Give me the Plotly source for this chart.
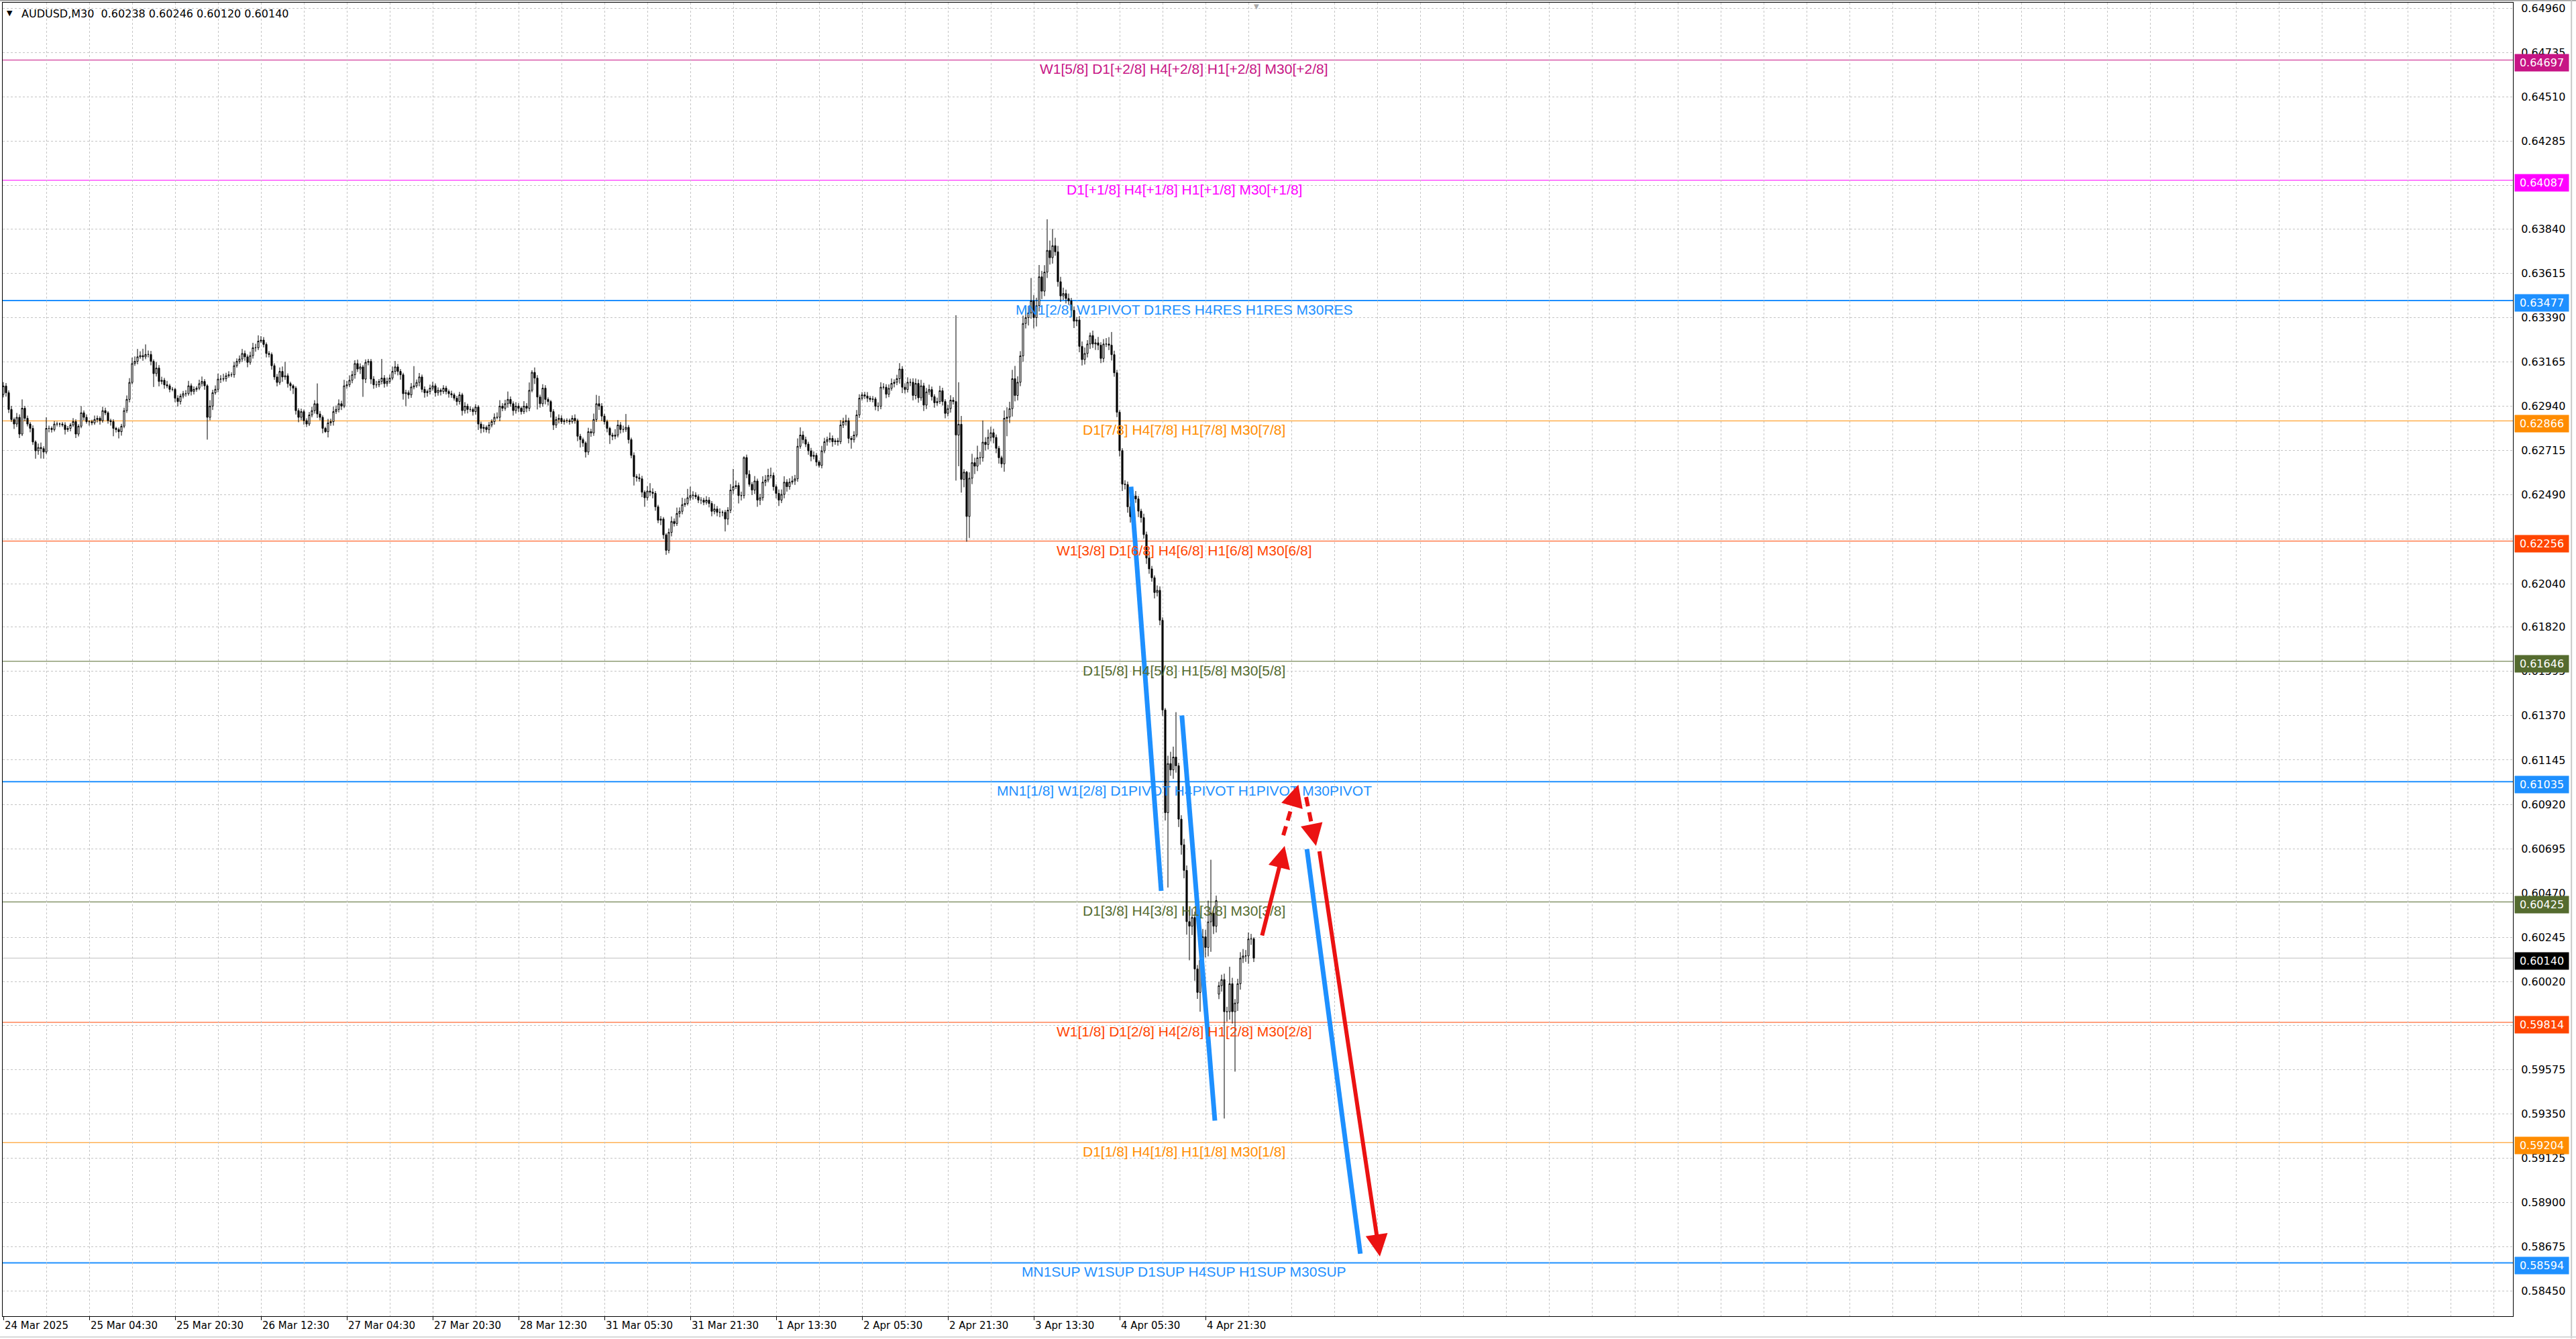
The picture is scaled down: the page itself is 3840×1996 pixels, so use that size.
import plotly.graph_objects as go

# ---- data (prices in 1e-5 units for the candles) ----
SYMBOL = "AUDUSD,M30"

CLOSE = [
    63043, 63009, 62924, 62873, 62850, 62884, 62799, 62930, 62879, 62850,
    62828, 62759, 62714, 62731, 62725, 62708, 62828, 62828, 62822, 62850,
    62850, 62850, 62845, 62822, 62828, 62845, 62862, 62799, 62839, 62907,
    62884, 62862, 62862, 62856, 62873, 62879, 62867, 62918, 62907, 62867,
    62862, 62828, 62822, 62811, 62839, 62918, 62975, 63061, 63157, 63168,
    63191, 63197, 63191, 63203, 63203, 63168, 63106, 63134, 63066, 63072,
    63049, 63044, 63026, 63026, 62981, 62964, 62992, 63004, 63004, 63044,
    63015, 63026, 63032, 63055, 63066, 63044, 62884, 62941, 63009, 63026,
    63078, 63078, 63080, 63095, 63100, 63100, 63146, 63168, 63180, 63208,
    63191, 63163, 63197, 63237, 63237, 63271, 63276, 63254, 63208, 63203,
    63146, 63089, 63061, 63117, 63089, 63095, 63055, 63044, 63032, 62918,
    62884, 62913, 62867, 62850, 62896, 62918, 62953, 62901, 62884, 62828,
    62811, 62856, 62862, 62913, 62924, 62953, 62941, 63044, 63049, 63072,
    63100, 63157, 63129, 63140, 63078, 63163, 63168, 63078, 63049, 63049,
    63066, 63083, 63055, 63066, 63083, 63117, 63140, 63117, 63100, 63004,
    63009, 62998, 63038, 63044, 63061, 63089, 63026, 63009, 63015, 63032,
    63044, 63009, 63021, 63015, 63032, 63015, 63004, 62998, 62981, 62964,
    62998, 62918, 62941, 62924, 62924, 62913, 62936, 62850, 62828, 62833,
    62822, 62845, 62862, 62884, 62884, 62941, 62930, 62953, 62975, 62953,
    62918, 62941, 62930, 62913, 62941, 62930, 63021, 63112, 63083, 62987,
    62953, 63032, 62975, 62964, 62913, 62845, 62873, 62879, 62862, 62867,
    62867, 62862, 62879, 62867, 62788, 62771, 62754, 62708, 62811, 62805,
    62873, 62953, 62941, 62890, 62862, 62828, 62794, 62788, 62794, 62845,
    62822, 62822, 62833, 62771, 62691, 62583, 62578, 62572, 62504, 62476,
    62510, 62504, 62498, 62430, 62362, 62368, 62288, 62209, 62300, 62356,
    62345, 62396, 62407, 62441, 62447, 62476, 62487, 62489, 62481, 62464,
    62464, 62453, 62464, 62447, 62407, 62419, 62402, 62402, 62402, 62368,
    62413, 62515, 62532, 62538, 62487, 62487, 62680, 62595, 62544, 62515,
    62561, 62464, 62476, 62555, 62566, 62589, 62589, 62532, 62498, 62464,
    62493, 62555, 62532, 62555, 62561, 62572, 62737, 62794, 62771, 62748,
    62714, 62686, 62691, 62657, 62640, 62714, 62760, 62771, 62777, 62760,
    62765, 62760, 62845, 62862, 62867, 62777, 62771, 62794, 62896, 62981,
    62998, 62992, 62981, 62975, 62977, 62940, 62940, 63037, 63037, 63001,
    63031, 63056, 63062, 63080, 63129, 63037, 63025, 63062, 63062, 62995,
    63056, 62983, 63044, 62946, 63013, 63025, 62989, 62958, 62964, 63019,
    62964, 62904, 62928, 62971, 62964, 62794, 62849, 62569, 62606, 62381,
    62575, 62654, 62636, 62679, 62679, 62758, 62746, 62782, 62806, 62782,
    62727, 62679, 62648, 62879, 62885, 62928, 63080, 62995, 63062, 63196,
    63360, 63390, 63414, 63475, 63390, 63451, 63597, 63524, 63621, 63731,
    63694, 63755, 63724, 63572, 63500, 63512, 63487, 63475, 63427, 63372,
    63378, 63244, 63177, 63208, 63256, 63299, 63256, 63262, 63250, 63183,
    63256, 63256, 63250, 63202, 63110, 62910, 62715, 62545, 62543, 62430,
    62380, 62485, 62470, 62408, 62375, 62289, 62170, 62115, 62070, 61995,
    62006, 61854, 61399, 60878, 61127, 61095, 61160, 61116, 60845, 60715,
    60585, 60325, 60302, 60346, 60085, 59966, 60129, 60248, 60194, 60324,
    60368, 60302, 60432, 60000, 60031, 59868, 59868, 60010, 59868, 59912,
    60010, 60140, 60151, 60151, 60237, 60238, 60140,
]

WICK_UP = [
    20, 15, 12, 18, 10, 22, 15, 45, 12, 14,
    10, 15, 8, 20, 25, 12, 56, 14, 10, 15,
    12, 8, 10, 14, 12, 10, 18, 12, 10, 34,
    12, 15, 8, 10, 20, 14, 10, 20, 15, 8,
    10, 12, 8, 10, 12, 15, 20, 22, 30, 25,
    40, 22, 35, 51, 20, 18, 10, 30, 15, 18,
    12, 20, 10, 12, 8, 15, 12, 14, 18, 25,
    12, 15, 10, 20, 25, 12, 8, 30, 15, 20,
    28, 20, 25, 15, 18, 12, 20, 15, 18, 23,
    15, 12, 20, 25, 20, 29, 20, 15, 10, 12,
    10, 12, 15, 20, 25, 70, 12, 10, 8, 10,
    12, 15, 10, 12, 15, 20, 18, 103, 15, 10,
    8, 20, 15, 25, 20, 22, 15, 30, 20, 25,
    20, 17, 20, 18, 10, 15, 12, 12, 15, 20,
    12, 97, 15, 20, 18, 25, 30, 15, 12, 10,
    15, 12, 20, 100, 15, 20, 12, 15, 10, 18,
    20, 12, 15, 10, 15, 12, 10, 15, 10, 12,
    15, 10, 20, 12, 15, 10, 15, 10, 12, 15,
    10, 15, 12, 20, 25, 30, 15, 20, 40, 15,
    12, 20, 15, 10, 25, 15, 40, 11, 25, 15,
    12, 20, 15, 10, 8, 12, 15, 20, 15, 10,
    12, 10, 15, 20, 10, 12, 10, 8, 20, 15,
    30, 45, 40, 15, 12, 10, 8, 12, 30, 25,
    15, 20, 68, 12, 10, 15, 12, 20, 15, 10,
    25, 40, 20, 12, 10, 15, 10, 8, 20, 25,
    15, 30, 20, 35, 25, 45, 45, 20, 15, 12,
    15, 12, 20, 15, 12, 25, 15, 20, 10, 12,
    15, 30, 90, 25, 15, 20, 6, 15, 20, 12,
    25, 12, 20, 30, 25, 34, 40, 15, 12, 20,
    25, 30, 15, 20, 25, 20, 40, 39, 20, 15,
    12, 15, 20, 12, 10, 25, 20, 15, 30, 15,
    12, 15, 25, 20, 30, 15, 12, 20, 25, 20,
    14, 15, 20, 12, 15, 10, 20, 25, 20, 15,
    20, 25, 15, 20, 30, 15, 20, 25, 18, 20,
    25, 20, 30, 15, 20, 25, 15, 12, 20, 25,
    15, 12, 20, 25, 15, 438, 213, 42, 15, 6,
    30, 45, 25, 61, 30, 110, 25, 40, 30, 20,
    15, 12, 10, 40, 50, 35, 45, 65, 30, 24,
    40, 50, 35, 116, 30, 40, 60, 30, 35, 158,
    50, 85, 40, 30, 25, 30, 20, 25, 15, 20,
    15, 20, 25, 30, 20, 15, 25, 20, 30, 15,
    25, 30, 35, 67, 20, 15, 10, 12, 20, 15,
    20, 30, 25, 15, 12, 20, 15, 20, 15, 12,
    25, 20, 15, 10, 40, 60, 53, 228, 15, 20,
    30, 25, 50, 45, 30, 20, 30, 40, 35, 108,
    271, 30, 25, 20, 25, 30, 25, 86, 30, 20,
    25, 30, 35, 30, 33, 25, 8,
]

WICK_DN = [
    15, 20, 18, 12, 25, 15, 20, 10, 15, 12,
    20, 15, 40, 20, 50, 34, 10, 20, 15, 10,
    12, 15, 10, 25, 12, 15, 10, 20, 12, 10,
    15, 10, 20, 12, 10, 15, 20, 10, 12, 15,
    20, 40, 15, 34, 20, 10, 12, 15, 10, 12,
    15, 10, 20, 12, 15, 20, 68, 15, 25, 15,
    20, 12, 15, 10, 20, 25, 15, 12, 15, 10,
    20, 15, 12, 10, 15, 20, 113, 15, 20, 10,
    15, 20, 12, 15, 10, 12, 15, 10, 12, 15,
    20, 25, 12, 15, 20, 12, 10, 15, 20, 15,
    20, 15, 20, 12, 25, 15, 20, 25, 30, 20,
    25, 15, 20, 15, 10, 12, 15, 20, 15, 25,
    6, 29, 15, 20, 12, 15, 20, 10, 15, 12,
    15, 20, 15, 25, 90, 20, 15, 25, 20, 15,
    12, 15, 20, 15, 12, 10, 15, 20, 25, 30,
    63, 20, 15, 12, 10, 20, 15, 25, 20, 15,
    12, 20, 15, 20, 12, 15, 20, 15, 12, 20,
    15, 25, 15, 20, 12, 20, 15, 30, 25, 20,
    15, 20, 12, 15, 10, 20, 15, 12, 20, 15,
    25, 15, 20, 15, 12, 20, 15, 10, 30, 63,
    20, 15, 25, 20, 30, 25, 15, 20, 12, 15,
    12, 15, 10, 15, 25, 40, 20, 28, 15, 20,
    15, 12, 20, 25, 15, 20, 45, 20, 15, 12,
    20, 15, 12, 20, 15, 45, 20, 15, 25, 46,
    15, 20, 25, 20, 15, 25, 20, 23, 15, 20,
    15, 12, 20, 15, 12, 10, 15, 20, 12, 15,
    20, 15, 12, 20, 25, 15, 20, 25, 20, 63,
    30, 15, 20, 12, 40, 25, 15, 20, 12, 25,
    20, 34, 25, 15, 20, 12, 15, 20, 25, 30,
    15, 20, 25, 15, 12, 20, 15, 12, 20, 15,
    20, 25, 15, 20, 11, 15, 12, 20, 15, 25,
    15, 20, 12, 15, 20, 25, 46, 15, 12, 15,
    12, 15, 20, 12, 15, 20, 25, 15, 12, 20,
    15, 12, 20, 15, 25, 30, 20, 15, 20, 25,
    20, 25, 15, 30, 20, 15, 20, 25, 15, 12,
    20, 25, 15, 20, 15, 231, 158, 67, 40, 128,
    109, 30, 40, 25, 35, 20, 30, 25, 20, 30,
    25, 30, 20, 40, 91, 30, 40, 30, 25, 20,
    30, 25, 40, 30, 55, 45, 30, 40, 25, 30,
    35, 30, 20, 25, 30, 20, 25, 20, 30, 35,
    25, 30, 30, 25, 20, 25, 20, 30, 25, 24,
    20, 15, 25, 30, 20, 25, 30, 35, 25, 30,
    30, 25, 20, 30, 25, 20, 30, 25, 20, 30,
    20, 25, 30, 40, 380, 30, 45, 35, 40, 50,
    40, 66, 173, 45, 60, 33, 98, 40, 50, 45,
    152, 40, 32, 25, 30, 542, 50, 40, 60, 304,
    40, 30, 25, 30, 40, 30, 20,
]

FIRST_OPEN = 63000
GAP_OPEN = {453: 59957}   # monday open after the weekend gap

TIME_LABELS = [
    "24 Mar 2025", "25 Mar 04:30", "25 Mar 20:30", "26 Mar 12:30",
    "27 Mar 04:30", "27 Mar 20:30", "28 Mar 12:30", "31 Mar 05:30",
    "31 Mar 21:30", "1 Apr 13:30", "2 Apr 05:30", "2 Apr 21:30",
    "3 Apr 13:30", "4 Apr 05:30", "4 Apr 21:30",
]
BARS_PER_LABEL = 32

Y_TICKS = [
    0.64960, 0.64735, 0.64510, 0.64285, 0.64060, 0.63840, 0.63615, 0.63390,
    0.63165, 0.62940, 0.62715, 0.62490, 0.62265, 0.62040, 0.61820, 0.61595,
    0.61370, 0.61145, 0.60920, 0.60695, 0.60470, 0.60245, 0.60020, 0.59800,
    0.59575, 0.59350, 0.59125, 0.58900, 0.58675, 0.58450,
]

LEVELS = [0.64697, 0.64087, 0.63477, 0.62866, 0.62256, 0.61646,
          0.61035, 0.60425, 0.59814, 0.59204, 0.58594]
LEVEL_TEXT = [
    "W1[5/8] D1[+2/8] H4[+2/8] H1[+2/8] M30[+2/8]",
    "D1[+1/8] H4[+1/8] H1[+1/8] M30[+1/8]",
    "MN1[2/8] W1PIVOT D1RES H4RES H1RES M30RES",
    "D1[7/8] H4[7/8] H1[7/8] M30[7/8]",
    "W1[3/8] D1[6/8] H4[6/8] H1[6/8] M30[6/8]",
    "D1[5/8] H4[5/8] H1[5/8] M30[5/8]",
    "MN1[1/8] W1[2/8] D1PIVOT H4PIVOT H1PIVOT M30PIVOT",
    "D1[3/8] H4[3/8] H1[3/8] M30[3/8]",
    "W1[1/8] D1[2/8] H4[2/8] H1[2/8] M30[2/8]",
    "D1[1/8] H4[1/8] H1[1/8] M30[1/8]",
    "MN1SUP W1SUP D1SUP H4SUP H1SUP M30SUP",
]
LEVEL_COLOR = ["#C71585", "#FF00FF", "#1E90FF", "#FF8C00", "#FF4500", "#556B2F",
               "#1E90FF", "#556B2F", "#FF4500", "#FF8C00", "#1E90FF"]
LEVEL_WIDTH = [1, 1, 2, 1, 1, 1, 2, 1, 1, 1, 2]
LABEL_BAR = 440

# hand drawn forecast lines (bar index, price)
BLUE_X = [[420.25, 431.5], [439.2, 451.5], [485.8, 505.7]]
BLUE_Y = [[0.62532, 0.60481], [0.61371, 0.59315], [0.60693, 0.58640]]
RED_SOLID_X = [[469.0, 477.5], [490.4, 513.0]]
RED_SOLID_Y = [[0.60250, 0.60709], [0.60687, 0.58626]]
RED_DASH_X = [[477.0, 482.6], [485.5, 489.2]]
RED_DASH_Y = [[0.60763, 0.61020], [0.60957, 0.60709]]

# ---- build candles ----
n = min(len(CLOSE), len(WICK_UP), len(WICK_DN))
opens, highs, lows, closes = [], [], [], []
prev = FIRST_OPEN
for i in range(n):
    o = GAP_OPEN.get(i, prev)
    c = CLOSE[i]
    opens.append(o / 1e5)
    closes.append(c / 1e5)
    highs.append((max(o, c) + WICK_UP[i]) / 1e5)
    lows.append((min(o, c) - WICK_DN[i]) / 1e5)
    prev = c
bars = list(range(n))
current = closes[-1]

AXIS_FONT = "Tahoma, DejaVu Sans, sans-serif"
LABEL_FONT = "Arial, Liberation Sans, sans-serif"
GRID = "#C4C4C4"
BLUE = "#1E90FF"
RED = "#EB1212"

fig = go.Figure()
fig.add_trace(go.Candlestick(
    x=bars, open=opens, high=highs, low=lows, close=closes,
    increasing=dict(line=dict(color="black", width=1), fillcolor="white"),
    decreasing=dict(line=dict(color="black", width=1), fillcolor="black"),
    whiskerwidth=0, showlegend=False, hoverinfo="skip",
))

for xs, ys in zip(BLUE_X, BLUE_Y):
    fig.add_trace(go.Scatter(x=xs, y=ys, mode="lines", line=dict(color=BLUE, width=7),
                             showlegend=False, hoverinfo="skip"))
for xs, ys in zip(RED_DASH_X, RED_DASH_Y):
    # dashed shaft stops a bit before the tip, head drawn by annotation
    fig.add_trace(go.Scatter(x=[xs[0], xs[0] + (xs[1] - xs[0]) * 0.7],
                             y=[ys[0], ys[0] + (ys[1] - ys[0]) * 0.7],
                             mode="lines", line=dict(color=RED, width=6, dash="14px,9px"),
                             showlegend=False, hoverinfo="skip"))

shapes = []
annotations = []

# current price line
shapes.append(dict(type="line", xref="paper", x0=0, x1=1, yref="y", y0=current, y1=current,
                   line=dict(color="#C0C0C0", width=1), layer="below"))

for lv, txt, col, w in zip(LEVELS, LEVEL_TEXT, LEVEL_COLOR, LEVEL_WIDTH):
    shapes.append(dict(type="line", xref="paper", x0=0, x1=1, yref="y", y0=lv, y1=lv,
                       line=dict(color=col, width=w), layer="below"))
    annotations.append(dict(x=LABEL_BAR, y=lv, xref="x", yref="y", text=txt, showarrow=False,
                            xanchor="center", yanchor="top", yshift=0,
                            font=dict(family=LABEL_FONT, size=21, color=col)))

# right-axis price tags
for lv, col in list(zip(LEVELS, LEVEL_COLOR)) + [(current, "#000000")]:
    annotations.append(dict(x=1, y=lv, xref="paper", yref="y", text=f"{lv:.5f}",
                            showarrow=False, xanchor="left", yanchor="middle", xshift=2, yshift=-4,
                            bgcolor=col, borderpad=3, width=74, align="center",
                            font=dict(family=AXIS_FONT, size=16, color="white")))

# arrows
for xs, ys in zip(RED_SOLID_X, RED_SOLID_Y):
    annotations.append(dict(x=xs[1], y=ys[1], ax=xs[0], ay=ys[0], xref="x", yref="y",
                            axref="x", ayref="y", text="", showarrow=True, arrowhead=2,
                            arrowsize=1.1, arrowwidth=6, arrowcolor=RED, standoff=0))
for xs, ys in zip(RED_DASH_X, RED_DASH_Y):
    annotations.append(dict(x=xs[1], y=ys[1],
                            ax=xs[1] - (xs[1] - xs[0]) * 0.3, ay=ys[1] - (ys[1] - ys[0]) * 0.3,
                            xref="x", yref="y", axref="x", ayref="y", text="", showarrow=True,
                            arrowhead=2, arrowsize=1.1, arrowwidth=6, arrowcolor=RED, standoff=0))

# time axis labels (left aligned at their bar like MT4)
for k, lab in enumerate(TIME_LABELS):
    annotations.append(dict(x=k * BARS_PER_LABEL, y=0, xref="x", yref="paper", text=lab,
                            showarrow=False, xanchor="left", yanchor="top", xshift=0, yshift=-3,
                            font=dict(family=AXIS_FONT, size=15, color="black")))

# header
annotations.append(dict(x=0, y=1, xref="paper", yref="paper", text="\u25BC", showarrow=False,
                        xanchor="left", yanchor="top", xshift=4, yshift=-7,
                        font=dict(family=AXIS_FONT, size=11, color="black")))
annotations.append(dict(x=0, y=1, xref="paper", yref="paper",
                        text=f"{SYMBOL}  {opens[-1]:.5f} {highs[-1]:.5f} {lows[-1]:.5f} {closes[-1]:.5f}",
                        showarrow=False, xanchor="left", yanchor="top", xshift=26, yshift=-5,
                        font=dict(family=AXIS_FONT, size=16, color="black")))
# chart shift marker
annotations.append(dict(x=n, y=1, xref="x", yref="paper", text="\u25BC", showarrow=False,
                        xanchor="center", yanchor="top", yshift=2,
                        font=dict(family=AXIS_FONT, size=10, color="#A8A8A8")))

# window frame
shapes.append(dict(type="line", xref="paper", yref="paper", x0=-0.01, x1=1.03, y0=1.0016, y1=1.0016,
                   line=dict(color="#A0A0A0", width=2)))
shapes.append(dict(type="line", xref="paper", yref="paper", x0=1.0233, x1=1.0233, y0=-0.017, y1=1.002,
                   line=dict(color="#C8C8C8", width=2)))
shapes.append(dict(type="line", xref="paper", yref="paper", x0=-0.01, x1=1.03, y0=-0.0158, y1=-0.0158,
                   line=dict(color="#D8D8D8", width=2)))

fig.update_layout(
    width=3840, height=1996,
    margin=dict(l=4, r=94, t=4, b=34),
    paper_bgcolor="white", plot_bgcolor="white",
    shapes=shapes, annotations=annotations,
    boxgap=0.25, showlegend=False,
    font=dict(family=AXIS_FONT, size=16, color="black"),
)
fig.update_xaxes(
    range=[-0.25, 935.25], rangeslider=dict(visible=False),
    tickmode="array", tickvals=[k * BARS_PER_LABEL for k in range(len(TIME_LABELS))],
    showticklabels=False, ticks="outside", ticklen=5, tickcolor="black",
    showgrid=True, gridcolor=GRID, gridwidth=1, griddash="3px,3px",
    minor=dict(tickmode="linear", tick0=0, dtick=16, showgrid=True, gridcolor=GRID,
               gridwidth=1, griddash="3px,3px", ticks=""),
    showline=True, linecolor="black", linewidth=1, mirror=True, zeroline=False,
)
fig.update_yaxes(
    range=[0.58323, 0.64988], side="right",
    tickmode="array", tickvals=Y_TICKS, tickformat=".5f",
    ticks="", ticklabelstandoff=8,
    tickfont=dict(family=AXIS_FONT, size=16, color="black"),
    showgrid=True, gridcolor=GRID, gridwidth=1, griddash="3px,3px",
    showline=True, linecolor="black", linewidth=1, mirror=True, zeroline=False,
)

fig.write_html("out.html", config={"displayModeBar": False},
               post_script="document.body.style.margin='0';document.body.style.overflow='hidden';")
